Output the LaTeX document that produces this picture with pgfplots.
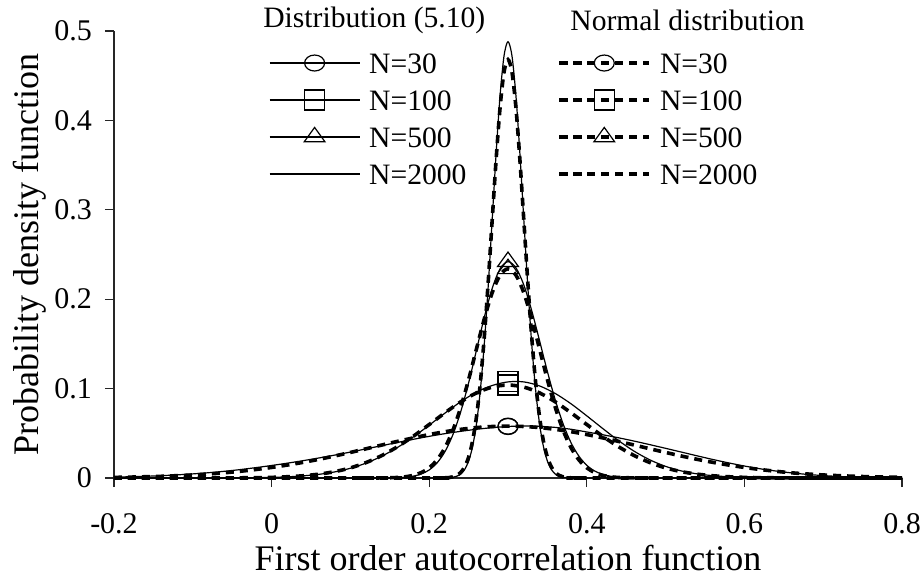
\documentclass[border=0pt]{standalone}
\usepackage{fontspec}
\setmainfont{Liberation Serif}
\usepackage{pgfplots}
\pgfplotsset{compat=1.18}

\pgfplotsset{
  distline/.style={black, line width=0.6bp, smooth},
  normline/.style={black, line width=1.8bp, dash pattern=on 4bp off 3bp, smooth},
  distmark/.style={mark options={solid, fill=white, line width=0.6bp, #1}},
  normmark/.style={mark options={solid, fill=none, line width=0.6bp, #1}},
}

\begin{document}
\begin{tikzpicture}
\begin{axis}[
  scale only axis,
  width=394bp, height=223.5bp,
  xmin=-0.2, xmax=0.8, ymin=0, ymax=0.5,
  clip=false,
  axis x line=bottom, axis y line=left,
  axis line style={-, line width=0.6bp, black!85},
  tick align=outside,
  tick style={line width=0.6bp, black!85},
  major tick length=4.5bp,
  xtick={-0.2,0,0.2,0.4,0.6,0.8},
  ytick={0,0.1,0.2,0.3,0.4,0.5},
  /pgf/number format/assume math mode=true,
  /pgf/number format/fixed,
  ticklabel style={font=\fontsize{15bp}{18bp}\selectfont},
  xticklabel style={inner sep=0pt, yshift=-13bp},
  yticklabel style={xshift=-3bp},
  xlabel={First order autocorrelation function},
  ylabel={Probability density function},
  every axis x label/.style={at={(axis description cs:0.5,-0.178)}, anchor=center, inner sep=0pt,
    font=\fontsize{18bp}{21bp}\selectfont},
  every axis y label/.style={at={(axis description cs:-0.1066,0.5)}, anchor=center, rotate=90,
    font=\fontsize{18bp}{21bp}\selectfont},
  legend columns=2,
  legend cell align=left,
  legend style={draw=none, fill=none, inner sep=0pt, outer sep=0pt,
    at={(axis cs:-0.0033,0.4804)}, anchor=north west,
    font=\fontsize{14.8bp}{17bp}\selectfont,
    row sep=4bp,
    nodes={inner sep=2bp, text height=10.5bp, text depth=0bp},
    /tikz/every odd column/.append style={column sep=2.5bp},
    /tikz/every even column/.append style={column sep=43.5bp}},
  legend image code/.code={\draw[mark indices={2}] plot coordinates {(0bp,0bp) (22.5bp,0bp) (45bp,0bp)};},
]

% N=30, distribution (5.10)
\addplot[distline, mark=o, mark size=5bp, distmark={yscale=0.8}, mark indices={26}] coordinates {
(-0.20,0.0010) (-0.18,0.0014) (-0.16,0.0019) (-0.14,0.0026) (-0.12,0.0035) (-0.10,0.0046)
(-0.08,0.0059) (-0.06,0.0075) (-0.04,0.0094) (-0.02,0.0116) (0.00,0.0140) (0.02,0.0166)
(0.04,0.0194) (0.06,0.0224) (0.08,0.0256) (0.10,0.0290) (0.12,0.0326) (0.14,0.0362)
(0.16,0.0398) (0.18,0.0433) (0.20,0.0466) (0.22,0.0496) (0.24,0.0522) (0.26,0.0545)
(0.28,0.0563) (0.30,0.0576) (0.32,0.0582) (0.34,0.0578) (0.36,0.0566) (0.38,0.0545)
(0.40,0.0515) (0.42,0.0484) (0.44,0.0450) (0.46,0.0413) (0.48,0.0373) (0.50,0.0332)
(0.52,0.0290) (0.54,0.0248) (0.56,0.0207) (0.58,0.0169) (0.60,0.0134) (0.62,0.0103)
(0.64,0.0078) (0.66,0.0057) (0.68,0.0040) (0.70,0.0027) (0.72,0.0017) (0.74,0.0010)
(0.76,0.0006) (0.78,0.0003) (0.80,0.0001)
};
\addlegendentry{N=30}
% N=30, normal
\addplot[normline, mark=o, mark size=5bp, normmark={yscale=0.8}, mark indices={26}] coordinates {
(-0.20,0.0007) (-0.18,0.0010) (-0.16,0.0014) (-0.14,0.0019) (-0.12,0.0026) (-0.10,0.0034)
(-0.08,0.0045) (-0.06,0.0058) (-0.04,0.0075) (-0.02,0.0095) (0.00,0.0118) (0.02,0.0145)
(0.04,0.0175) (0.06,0.0209) (0.08,0.0246) (0.10,0.0286) (0.12,0.0327) (0.14,0.0369)
(0.16,0.0410) (0.18,0.0449) (0.20,0.0486) (0.22,0.0518) (0.24,0.0544) (0.26,0.0564)
(0.28,0.0576) (0.30,0.0580) (0.32,0.0576) (0.34,0.0564) (0.36,0.0544) (0.38,0.0518)
(0.40,0.0486) (0.42,0.0449) (0.44,0.0410) (0.46,0.0369) (0.48,0.0327) (0.50,0.0286)
(0.52,0.0246) (0.54,0.0209) (0.56,0.0175) (0.58,0.0145) (0.60,0.0118) (0.62,0.0095)
(0.64,0.0075) (0.66,0.0058) (0.68,0.0045) (0.70,0.0034) (0.72,0.0026) (0.74,0.0019)
(0.76,0.0014) (0.78,0.0010) (0.80,0.0007)
};
\addlegendentry{N=30}

% N=100, distribution (5.10)
\addplot[distline, mark=square, mark size=5bp, distmark={}, mark indices={26}] coordinates {
(-0.20,0) (-0.18,0) (-0.16,0) (-0.14,0) (-0.12,0) (-0.10,0)
(-0.08,0) (-0.06,0.0001) (-0.04,0.0002) (-0.02,0.0004) (0.00,0.0007) (0.02,0.0013)
(0.04,0.0024) (0.06,0.0041) (0.08,0.0068) (0.10,0.0109) (0.12,0.0167) (0.14,0.0245)
(0.16,0.0343) (0.18,0.0460) (0.20,0.0591) (0.22,0.0726) (0.24,0.0853) (0.26,0.0960)
(0.28,0.1035) (0.30,0.1075) (0.32,0.1075) (0.34,0.1030) (0.36,0.0945) (0.38,0.0830)
(0.40,0.0695) (0.42,0.0555) (0.44,0.0420) (0.46,0.0300) (0.48,0.0203) (0.50,0.0130)
(0.52,0.0079) (0.54,0.0046) (0.56,0.0026) (0.58,0.0014) (0.60,0.0007) (0.62,0.0004)
(0.64,0.0002) (0.66,0.0001) (0.68,0) (0.70,0) (0.72,0) (0.74,0)
(0.76,0) (0.78,0) (0.80,0)
};
\addlegendentry{N=100}
% N=100, normal
\addplot[normline, mark=square, mark size=5bp, normmark={}, mark indices={26}] coordinates {
(-0.20,0) (-0.18,0) (-0.16,0) (-0.14,0) (-0.12,0) (-0.10,0)
(-0.08,0) (-0.06,0.0001) (-0.04,0.0002) (-0.02,0.0004) (0.00,0.0007) (0.02,0.0014)
(0.04,0.0025) (0.06,0.0043) (0.08,0.0071) (0.10,0.0113) (0.12,0.0173) (0.14,0.0252)
(0.16,0.0351) (0.18,0.0468) (0.20,0.0598) (0.22,0.0729) (0.24,0.0852) (0.26,0.0952)
(0.28,0.1017) (0.30,0.1040) (0.32,0.1017) (0.34,0.0952) (0.36,0.0852) (0.38,0.0729)
(0.40,0.0598) (0.42,0.0468) (0.44,0.0351) (0.46,0.0252) (0.48,0.0173) (0.50,0.0113)
(0.52,0.0071) (0.54,0.0043) (0.56,0.0025) (0.58,0.0014) (0.60,0.0007) (0.62,0.0004)
(0.64,0.0002) (0.66,0.0001) (0.68,0) (0.70,0) (0.72,0) (0.74,0)
(0.76,0) (0.78,0) (0.80,0)
};
\addlegendentry{N=100}

% N=500, distribution (5.10)
\addplot[distline, mark=triangle, mark size=6bp, distmark={yscale=0.8}, mark indices={22}] coordinates {
(-0.20,0) (0.10,0) (0.11,0) (0.12,0) (0.13,0) (0.14,0) (0.15,0.0001) (0.16,0.0004)
(0.17,0.0009) (0.18,0.0021) (0.19,0.0045) (0.20,0.0090) (0.21,0.0169) (0.22,0.0295)
(0.23,0.0483) (0.24,0.0741) (0.25,0.1064) (0.26,0.1430) (0.27,0.1800) (0.28,0.2122)
(0.29,0.2342) (0.30,0.2420) (0.31,0.2352) (0.32,0.2161) (0.33,0.1875) (0.34,0.1538)
(0.35,0.1191) (0.36,0.0872) (0.37,0.0604) (0.38,0.0394) (0.39,0.0244) (0.40,0.0142)
(0.41,0.0078) (0.42,0.0041) (0.43,0.0020) (0.44,0.0009) (0.45,0.0004) (0.46,0.0002)
(0.47,0.0001) (0.48,0) (0.49,0) (0.50,0) (0.80,0)
};
\addlegendentry{N=500}
% N=500, normal
\addplot[normline, mark=triangle, mark size=6bp, normmark={yscale=0.8}, mark indices={22}] coordinates {
(-0.20,0) (0.10,0) (0.11,0) (0.12,0) (0.13,0) (0.14,0.0001) (0.15,0.0003) (0.16,0.0006)
(0.17,0.0014) (0.18,0.0030) (0.19,0.0061) (0.20,0.0114) (0.21,0.0203) (0.22,0.0339)
(0.23,0.0533) (0.24,0.0790) (0.25,0.1100) (0.26,0.1444) (0.27,0.1783) (0.28,0.2074)
(0.29,0.2270) (0.30,0.2340) (0.31,0.2270) (0.32,0.2074) (0.33,0.1783) (0.34,0.1444)
(0.35,0.1100) (0.36,0.0790) (0.37,0.0533) (0.38,0.0339) (0.39,0.0203) (0.40,0.0114)
(0.41,0.0061) (0.42,0.0030) (0.43,0.0014) (0.44,0.0006) (0.45,0.0003) (0.46,0.0001)
(0.47,0) (0.48,0) (0.49,0) (0.50,0) (0.80,0)
};
\addlegendentry{N=500}

% N=2000, distribution (5.10)
\addplot[distline] coordinates {
(-0.20,0) (0.200,0) (0.205,0) (0.210,0) (0.215,0) (0.220,0.0001) (0.225,0.0003)
(0.230,0.0008) (0.235,0.0020) (0.240,0.0045) (0.245,0.0095) (0.250,0.0189) (0.255,0.0350)
(0.260,0.0608) (0.265,0.0991) (0.270,0.1512) (0.275,0.2163) (0.280,0.2900) (0.285,0.3641)
(0.290,0.4284) (0.295,0.4724) (0.300,0.4880) (0.305,0.4724) (0.310,0.4284) (0.315,0.3641)
(0.320,0.2900) (0.325,0.2163) (0.330,0.1512) (0.335,0.0991) (0.340,0.0608) (0.345,0.0350)
(0.350,0.0189) (0.355,0.0095) (0.360,0.0045) (0.365,0.0020) (0.370,0.0008) (0.375,0.0003)
(0.380,0.0001) (0.385,0) (0.390,0) (0.395,0) (0.400,0) (0.80,0)
};
\addlegendentry{N=2000}
% N=2000, normal
\addplot[normline] coordinates {
(-0.20,0) (0.200,0) (0.205,0) (0.210,0) (0.215,0.0001) (0.220,0.0002) (0.225,0.0005)
(0.230,0.0013) (0.235,0.0029) (0.240,0.0062) (0.245,0.0124) (0.250,0.0232) (0.255,0.0411)
(0.260,0.0685) (0.265,0.1074) (0.270,0.1587) (0.275,0.2208) (0.280,0.2894) (0.285,0.3572)
(0.290,0.4150) (0.295,0.4542) (0.300,0.4680) (0.305,0.4542) (0.310,0.4150) (0.315,0.3572)
(0.320,0.2894) (0.325,0.2208) (0.330,0.1587) (0.335,0.1074) (0.340,0.0685) (0.345,0.0411)
(0.350,0.0232) (0.355,0.0124) (0.360,0.0062) (0.365,0.0029) (0.370,0.0013) (0.375,0.0005)
(0.380,0.0002) (0.385,0.0001) (0.390,0) (0.395,0) (0.400,0) (0.80,0)
};
\addlegendentry{N=2000}

\node[anchor=west, inner sep=0pt, font=\fontsize{14.8bp}{17bp}\selectfont] at (rel axis cs:0.189,1.0246) {Distribution (5.10)};
\node[anchor=west, inner sep=0pt, font=\fontsize{14.8bp}{17bp}\selectfont] at (rel axis cs:0.5787,1.0246) {Normal distribution};
\end{axis}
\pgfresetboundingbox
\path[use as bounding box] ([shift={(-57bp,-48.5bp)}]current axis.south west) rectangle ([shift={(9bp,15.5bp)}]current axis.north east);
\end{tikzpicture}
\end{document}
